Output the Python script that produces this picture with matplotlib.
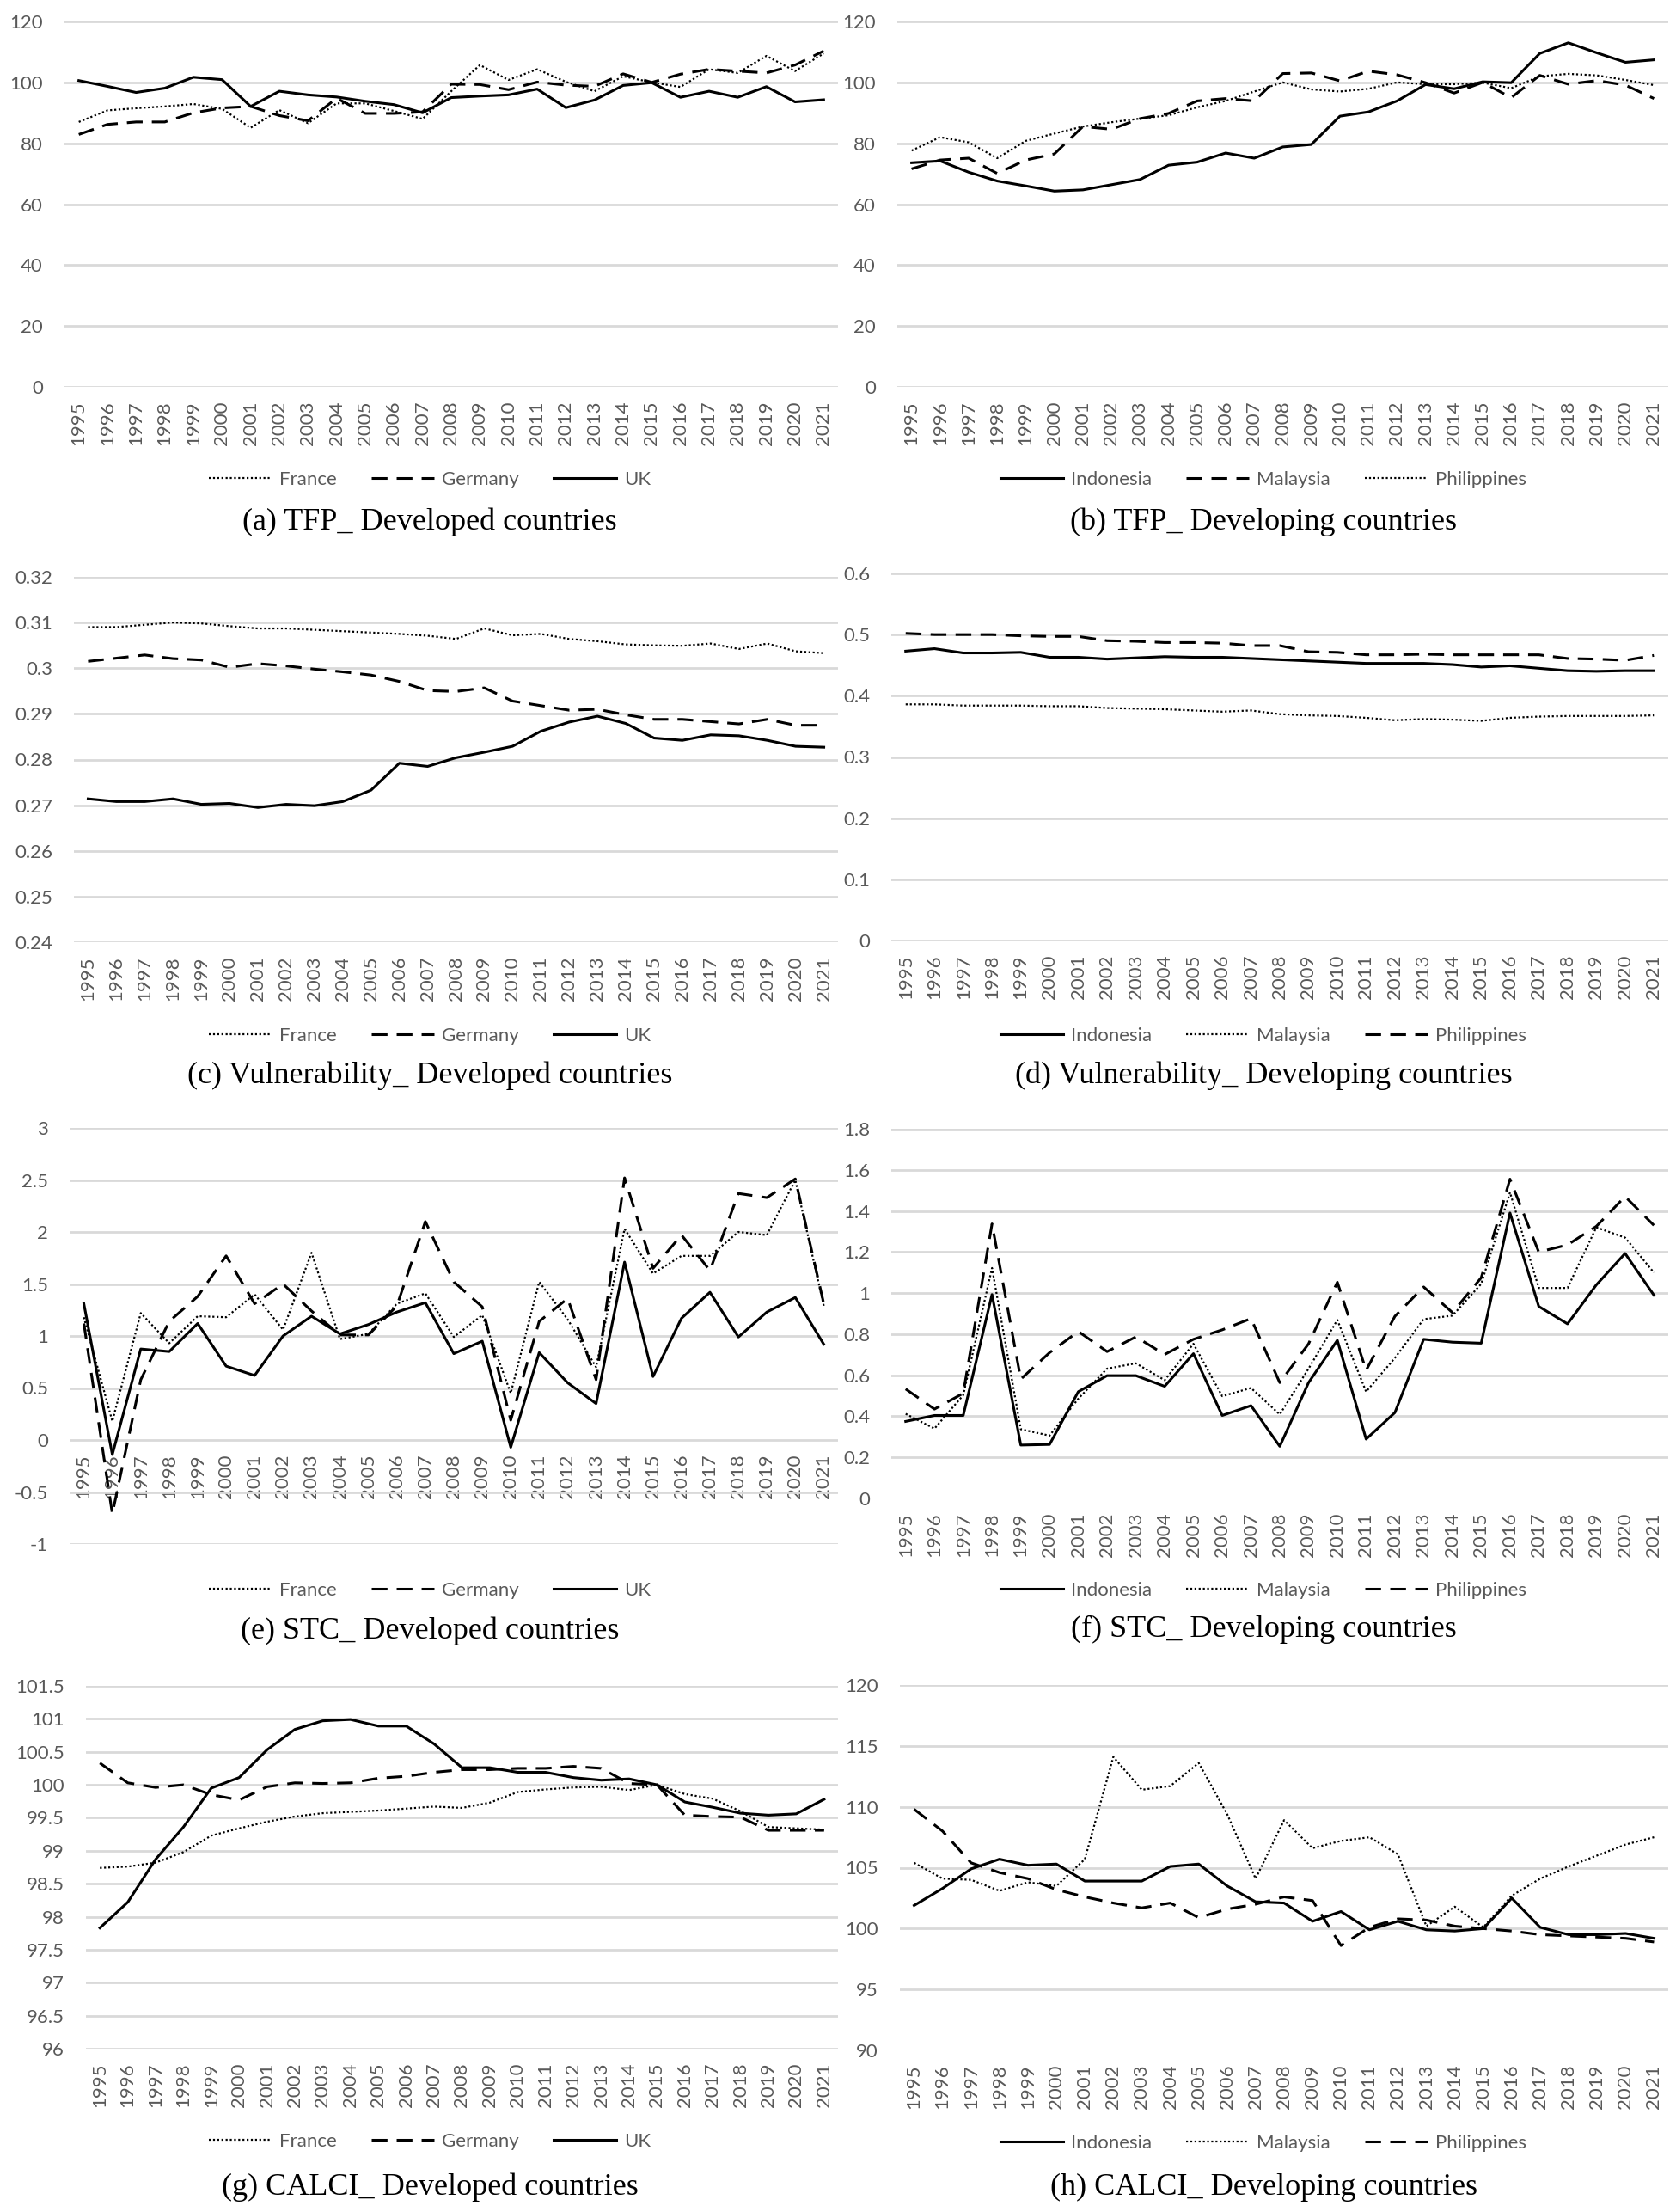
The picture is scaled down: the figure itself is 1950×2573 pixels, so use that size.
import numpy as np
import matplotlib
matplotlib.use("Agg")
import matplotlib.pyplot as plt
from matplotlib.ticker import FixedLocator, FuncFormatter

years = [str(y) for y in range(1995, 2022)]

# (a) TFP developed
tfp_france = [87.0, 90.8, 91.5, 92.1, 92.9, 91.3, 85.1, 90.9, 86.6, 93.1, 93.1, 90.6, 88.0, 97.1,
              105.7, 100.8, 104.3, 100.2, 97.1, 102.0, 100.0, 98.5, 104.3, 103.1, 108.7, 103.7, 109.5]
tfp_germany = [82.9, 86.2, 87.0, 87.0, 90.0, 91.6, 92.1, 89.1, 87.4, 94.8, 89.8, 89.8, 90.3, 99.4,
               99.3, 97.6, 100.1, 99.1, 98.7, 102.8, 100.0, 102.7, 104.3, 103.7, 103.1, 105.7, 110.3]
tfp_uk = [100.6, 98.7, 96.7, 98.1, 101.7, 100.9, 92.1, 97.1, 95.9, 95.2, 93.8, 92.7, 90.0, 95.0,
          95.5, 95.9, 97.8, 91.7, 94.2, 99.0, 99.9, 95.1, 97.1, 95.1, 98.6, 93.6, 94.3]

# (b) TFP developing
tfp_indonesia = [73.6, 74.2, 70.5, 67.6, 66.0, 64.3, 64.7, 66.4, 68.1, 72.8, 73.8, 76.8, 75.1, 78.8,
                 79.6, 88.9, 90.3, 93.9, 99.3, 97.9, 100.2, 99.9, 109.5, 113.0, 109.7, 106.6, 107.4]
tfp_malaysia = [71.6, 74.5, 75.1, 70.1, 74.5, 76.5, 85.5, 84.6, 88.1, 89.8, 93.9, 94.7, 93.9, 102.9,
                103.1, 100.5, 103.7, 102.5, 99.9, 96.5, 100.0, 95.0, 102.3, 99.4, 100.6, 99.1, 94.7]
tfp_philippines = [77.6, 82.0, 80.3, 75.1, 80.8, 83.2, 85.5, 86.9, 88.1, 89.2, 91.8, 93.9, 97.0, 100.0,
                   97.7, 97.0, 97.9, 100.0, 99.4, 99.4, 99.9, 98.1, 102.0, 102.8, 102.3, 100.8, 99.1]

# (c) Vulnerability developed
vul_france = [0.3090, 0.3090, 0.3095, 0.3100, 0.3098, 0.3092, 0.3087, 0.3087, 0.3084, 0.3081,
              0.3078, 0.3075, 0.3071, 0.3064, 0.3087, 0.3072, 0.3075, 0.3064, 0.3059, 0.3052,
              0.3050, 0.3049, 0.3054, 0.3042, 0.3054, 0.3037, 0.3033]
vul_germany = [0.3015, 0.3022, 0.3029, 0.3021, 0.3018, 0.3002, 0.3010, 0.3005, 0.2998, 0.2992,
               0.2985, 0.2971, 0.2951, 0.2949, 0.2957, 0.2928, 0.2918, 0.2908, 0.2910, 0.2898,
               0.2888, 0.2888, 0.2883, 0.2878, 0.2888, 0.2875, 0.2875]
vul_uk = [0.2714, 0.2708, 0.2708, 0.2714, 0.2702, 0.2704, 0.2695, 0.2702, 0.2699, 0.2708,
          0.2733, 0.2792, 0.2785, 0.2804, 0.2816, 0.2829, 0.2862, 0.2882, 0.2895, 0.2879,
          0.2847, 0.2842, 0.2854, 0.2852, 0.2842, 0.2829, 0.2827]

# (d) Vulnerability developing
vul_indonesia = [0.473, 0.477, 0.470, 0.470, 0.471, 0.463, 0.463, 0.460, 0.462, 0.464, 0.463, 0.463,
                 0.461, 0.459, 0.457, 0.455, 0.453, 0.453, 0.453, 0.451, 0.447, 0.449, 0.445,
                 0.441, 0.440, 0.441, 0.441]
vul_malaysia = [0.386, 0.386, 0.384, 0.384, 0.384, 0.383, 0.383, 0.380, 0.379, 0.378, 0.376, 0.374,
                0.376, 0.370, 0.368, 0.367, 0.364, 0.360, 0.362, 0.361, 0.359, 0.364, 0.366,
                0.367, 0.367, 0.367, 0.368]
vul_philippines = [0.502, 0.500, 0.500, 0.500, 0.498, 0.497, 0.497, 0.490, 0.489, 0.487, 0.487,
                   0.486, 0.482, 0.482, 0.472, 0.471, 0.467, 0.467, 0.468, 0.467, 0.467, 0.467,
                   0.467, 0.461, 0.460, 0.458, 0.466]

# (e) STC developed
stc_france = [1.18, 0.18, 1.22, 0.93, 1.19, 1.18, 1.40, 1.06, 1.80, 0.97, 1.02, 1.31, 1.41, 0.99,
              1.20, 0.45, 1.52, 1.16, 0.70, 2.03, 1.60, 1.77, 1.77, 2.00, 1.97, 2.50, 1.29]
stc_germany = [1.12, -0.71, 0.58, 1.14, 1.38, 1.77, 1.31, 1.50, 1.24, 1.01, 1.01, 1.29, 2.10, 1.52,
               1.28, 0.19, 1.14, 1.36, 0.58, 2.52, 1.65, 1.97, 1.63, 2.37, 2.33, 2.51, 1.31]
stc_uk = [1.31, -0.14, 0.875, 0.85, 1.12, 0.71, 0.62, 1.00, 1.19, 1.02, 1.11, 1.23, 1.32, 0.83,
          0.95, -0.07, 0.84, 0.55, 0.35, 1.71, 0.61, 1.17, 1.42, 0.99, 1.23, 1.37, 0.92]

# (f) STC developing
stc_indonesia = [0.375, 0.404, 0.404, 0.993, 0.260, 0.263, 0.520, 0.598, 0.598, 0.546, 0.705, 0.404,
                 0.452, 0.254, 0.564, 0.770, 0.289, 0.418, 0.775, 0.761, 0.756, 1.390, 0.935,
                 0.850, 1.040, 1.193, 0.990]
stc_malaysia = [0.412, 0.340, 0.503, 1.122, 0.337, 0.306, 0.486, 0.632, 0.658, 0.576, 0.753, 0.498,
                0.538, 0.409, 0.632, 0.869, 0.520, 0.684, 0.873, 0.890, 1.045, 1.490, 1.025,
                1.025, 1.320, 1.270, 1.100]
stc_philippines = [0.533, 0.435, 0.512, 1.337, 0.581, 0.710, 0.813, 0.715, 0.787, 0.701, 0.775,
                   0.821, 0.876, 0.564, 0.753, 1.053, 0.624, 0.887, 1.030, 0.905, 1.075, 1.555,
                   1.200, 1.235, 1.325, 1.470, 1.330]

# (g) CALCI developed
calci_france = [98.74, 98.76, 98.82, 98.98, 99.23, 99.34, 99.44, 99.52, 99.57, 99.59, 99.61, 99.64,
                99.67, 99.65, 99.73, 99.89, 99.93, 99.96, 99.97, 99.92, 100.0, 99.86, 99.79,
                99.60, 99.36, 99.34, 99.32]
calci_germany = [100.33, 100.03, 99.96, 100.0, 99.85, 99.77, 99.97, 100.03, 100.02, 100.03, 100.10,
                 100.13, 100.19, 100.23, 100.23, 100.25, 100.25, 100.28, 100.25, 100.02, 100.0,
                 99.54, 99.52, 99.51, 99.31, 99.31, 99.31]
calci_uk = [97.83, 98.22, 98.87, 99.36, 99.95, 100.11, 100.53, 100.84, 100.97, 100.99, 100.89,
            100.89, 100.62, 100.26, 100.26, 100.19, 100.19, 100.11, 100.07, 100.09, 100.0, 99.74,
            99.66, 99.57, 99.54, 99.56, 99.78]

# (h) CALCI developing
calci_indonesia = [101.9, 103.3, 104.9, 105.7, 105.2, 105.3, 103.9, 103.9, 103.9, 105.1, 105.3,
                   103.5, 102.2, 102.1, 100.6, 101.4, 99.9, 100.6, 99.9, 99.8, 100.0, 102.5, 100.1,
                   99.5, 99.5, 99.6, 99.2]
calci_malaysia = [105.4, 104.1, 104.0, 103.1, 103.8, 103.5, 105.7, 114.1, 111.4, 111.7, 113.6,
                  109.4, 104.1, 108.9, 106.6, 107.2, 107.5, 106.1, 100.2, 101.8, 100.1, 102.7,
                  104.1, 105.1, 106.0, 106.9, 107.5]
calci_philippines = [109.8, 108.0, 105.4, 104.6, 104.1, 103.2, 102.6, 102.1, 101.7, 102.1, 100.9,
                     101.6, 102.0, 102.6, 102.3, 98.6, 100.1, 100.8, 100.7, 100.2, 100.0, 99.8,
                     99.5, 99.4, 99.3, 99.2, 98.9]

W, H = 1950, 2573
GRID = "#d9d9d9"
TXT = "#595959"
TICKFONT = ["Lato", "DejaVu Sans"]
SERIF = ["Liberation Serif", "DejaVu Serif"]

STYLES = {
    "solid": dict(color="black", lw=2.2, linestyle="-"),
    "dashed": dict(color="black", lw=2.2, linestyle=(0, (6, 3.5))),
    "dotted": dict(color="black", lw=1.6, linestyle=(0, (1, 1.2))),
}

fig = plt.figure(figsize=(W / 100, H / 100), dpi=100)


def panel(box, series, ylim, step, legend_y, caption, caption_y, col_cx):
    x0, y0, x1, y1 = box
    ax = fig.add_axes([x0 / W, 1 - y1 / H, (x1 - x0) / W, (y1 - y0) / H])
    for s in ax.spines.values():
        s.set_visible(False)
    # category axis crosses at zero when the range goes negative
    # (set before the tick labels, it resets the ticks)
    if ylim[0] < 0:
        ax.spines["bottom"].set_position(("data", 0))
    x = np.arange(len(years))
    for label, values, style in series:
        ax.plot(x, values, label=label, **STYLES[style])
    ax.set_xlim(-0.5, len(years) - 0.5)
    ax.set_ylim(*ylim)
    ticks = np.arange(ylim[0], ylim[1] + step / 2, step)
    ax.yaxis.set_major_locator(FixedLocator(ticks))
    ax.yaxis.set_major_formatter(FuncFormatter(lambda v, p: f"{round(v, 4):g}"))
    ax.set_xticks(x)
    ax.set_xticklabels(years, rotation=90)
    ax.grid(axis="y", color=GRID, lw=2.0)
    ax.set_axisbelow(True)
    ax.tick_params(length=0, labelsize=16, labelcolor=TXT)
    ax.tick_params(axis="y", pad=18)
    ax.tick_params(axis="x", pad=12)
    for t in ax.get_xticklabels() + ax.get_yticklabels():
        t.set_fontfamily(TICKFONT)
    leg = ax.legend(loc="center", bbox_to_anchor=(col_cx / W, 1 - legend_y / H),
                    bbox_transform=fig.transFigure, ncol=3, frameon=False,
                    handlelength=3.3, handletextpad=0.4, columnspacing=1.8,
                    prop={"family": TICKFONT, "size": 16})
    for t in leg.get_texts():
        t.set_color(TXT)
    fig.text(col_cx / W, 1 - caption_y / H, caption, ha="center", va="center",
             fontfamily=SERIF, fontsize=26)
    return ax


dev = ("France", "Germany", "UK")
L, R = 500, 1470

panel((75, 25, 975, 450),
      [(dev[0], tfp_france, "dotted"), (dev[1], tfp_germany, "dashed"), (dev[2], tfp_uk, "solid")],
      (0, 120), 20, 558, "(a) TFP_ Developed countries", 607, L)
panel((1044, 25, 1941, 450),
      [("Indonesia", tfp_indonesia, "solid"), ("Malaysia", tfp_malaysia, "dashed"),
       ("Philippines", tfp_philippines, "dotted")],
      (0, 120), 20, 558, "(b) TFP_ Developing countries", 607, R)

panel((86, 671, 975, 1096),
      [(dev[0], vul_france, "dotted"), (dev[1], vul_germany, "dashed"), (dev[2], vul_uk, "solid")],
      (0.24, 0.32), 0.01, 1205, "(c) Vulnerability_ Developed countries", 1251, L)
panel((1037, 667, 1941, 1094),
      [("Indonesia", vul_indonesia, "solid"), ("Malaysia", vul_malaysia, "dotted"),
       ("Philippines", vul_philippines, "dashed")],
      (0, 0.6), 0.1, 1205, "(d) Vulnerability_ Developing countries", 1251, R)

panel((81, 1312, 975, 1796),
      [(dev[0], stc_france, "dotted"), (dev[1], stc_germany, "dashed"), (dev[2], stc_uk, "solid")],
      (-1, 3), 0.5, 1850, "(e) STC_ Developed countries", 1897, L)
panel((1037, 1313, 1941, 1743),
      [("Indonesia", stc_indonesia, "solid"), ("Malaysia", stc_malaysia, "dotted"),
       ("Philippines", stc_philippines, "dashed")],
      (0, 1.8), 0.2, 1850, "(f) STC_ Developing countries", 1895, R)

panel((100, 1961, 975, 2383),
      [(dev[0], calci_france, "dotted"), (dev[1], calci_germany, "dashed"), (dev[2], calci_uk, "solid")],
      (96, 101.5), 0.5, 2491, "(g) CALCI_ Developed countries", 2544, L)
panel((1047, 1960, 1941, 2385),
      [("Indonesia", calci_indonesia, "solid"), ("Malaysia", calci_malaysia, "dotted"),
       ("Philippines", calci_philippines, "dashed")],
      (90, 120), 5, 2493, "(h) CALCI_ Developing countries", 2544, R)

fig.savefig("out.png", dpi=100, facecolor="white")
